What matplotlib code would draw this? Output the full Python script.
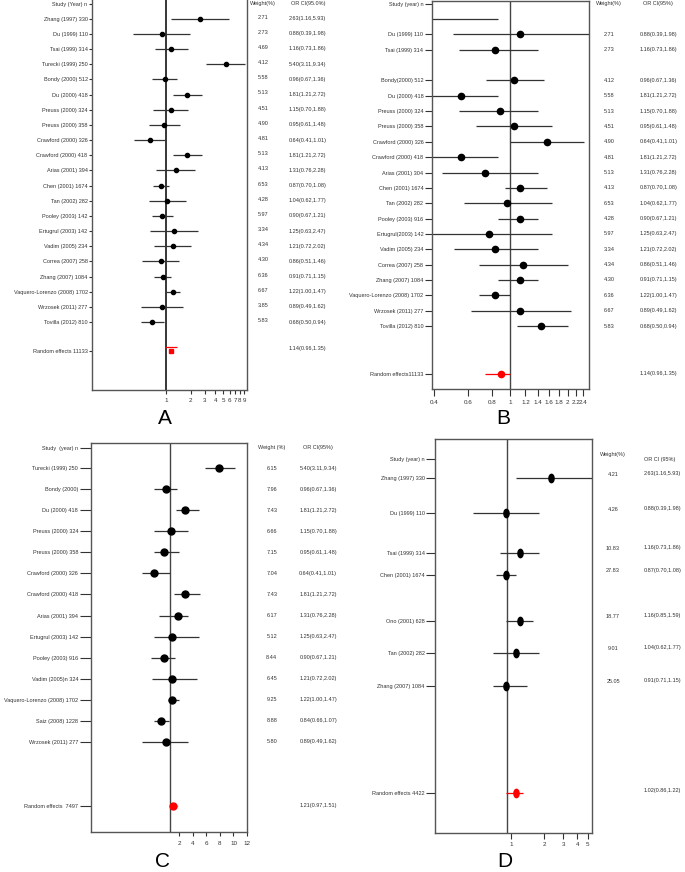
import numpy as np
import matplotlib
matplotlib.use('Agg')
import matplotlib.pyplot as plt
from matplotlib.ticker import NullLocator

plt.rcParams['font.family'] = ['Liberation Sans', 'DejaVu Sans']

# ---------------- panel A data
a_names = ['Zhang (1997) 330', 'Du (1999) 110', 'Tsai (1999) 314', 'Turecki (1999) 250',
           'Bondy (2000) 512', 'Du (2000) 418', 'Preuss (2000) 324', 'Preuss (2000) 358',
           'Crawford (2000) 326', 'Crawford (2000) 418', 'Arias (2001) 394', 'Chen (2001) 1674',
           'Tan (2002) 282', 'Pooley (2003) 142', 'Ertugrul (2003) 142', 'Vadim (2005) 234',
           'Correa (2007) 258', 'Zhang (2007) 1084', 'Vaquero-Lorenzo (2008) 1702',
           'Wrzosek (2011) 277', 'Tovilla (2012) 810']
a_weight = ['2.71', '2.73', '4.69', '4.12', '5.58', '5.13', '4.51', '4.90', '4.81', '5.13', '4.13',
            '6.53', '4.28', '5.97', '3.34', '4.34', '4.30', '6.36', '6.67', '3.85', '5.83']
a_or = [2.63, 0.88, 1.16, 5.40, 0.96, 1.81, 1.15, 0.95, 0.64, 1.81, 1.31, 0.87, 1.04, 0.90,
        1.25, 1.21, 0.86, 0.91, 1.22, 0.89, 0.68]
a_lo = [1.16, 0.39, 0.73, 3.11, 0.67, 1.21, 0.70, 0.61, 0.41, 1.21, 0.76, 0.70, 0.62, 0.67,
        0.63, 0.72, 0.51, 0.71, 1.00, 0.49, 0.50]
a_hi = [5.93, 1.98, 1.86, 9.34, 1.36, 2.72, 1.88, 1.48, 1.01, 2.72, 2.28, 1.08, 1.77, 1.21,
        2.47, 2.02, 1.46, 1.15, 1.47, 1.62, 0.94]
a_pooled = [1.14, 0.96, 1.35]

# ---------------- panel B data (as drawn)
b_names = ['', 'Du (1999) 110', 'Tsai (1999) 314', '', 'Bondy(2000) 512', 'Du (2000) 418',
           'Preuss (2000) 324', 'Preuss (2000) 358', 'Crawford (2000) 326', 'Crawford (2000) 418',
           'Arias (2001) 304', 'Chen (2001) 1674', 'Tan (2002) 282', 'Pooley (2003) 916',
           'Ertugrul(2003) 142', 'Vadim (2005) 234', 'Correa (2007) 258', 'Zhang (2007) 1084',
           'Vaquero-Lorenzo (2008) 1702', 'Wrzosek (2011) 277', 'Tovilla (2012) 810']
b_pt = [np.nan, 1.12, 0.83, np.nan, 1.04, 0.55, 0.88, 1.04, 1.56, 0.55, 0.74, 1.12, 0.96, 1.12,
        0.77, 0.83, 1.16, 1.12, 0.83, 1.12, 1.45]
b_lo = [0.30, 0.50, 0.54, np.nan, 0.75, 0.30, 0.54, 0.66, 1.00, 0.30, 0.44, 0.94, 0.57, 0.86,
        0.30, 0.51, 0.69, 0.86, 0.69, 0.62, 1.08]
b_hi = [0.86, 2.59, 1.40, np.nan, 1.50, 0.86, 1.40, 1.65, 2.44, 0.86, 1.40, 1.55, 1.65, 1.40,
        1.65, 1.40, 2.00, 1.40, 1.00, 2.09, 2.00]
b_weight = ['', '2.71', '2.73', '', '4.12', '5.58', '5.13', '4.51', '4.90', '4.81', '5.13', '4.13',
            '6.53', '4.28', '5.97', '3.34', '4.34', '4.30', '6.36', '6.67', '5.83']
b_ortext = ['', '0.88(0.39,1.98)', '1.16(0.73,1.86)', '', '0.96(0.67,1.36)', '1.81(1.21,2.72)',
            '1.15(0.70,1.88)', '0.95(0.61,1.48)', '0.64(0.41,1.01)', '1.81(1.21,2.72)',
            '1.31(0.76,2.28)', '0.87(0.70,1.08)', '1.04(0.62,1.77)', '0.90(0.67,1.21)',
            '1.25(0.63,2.47)', '1.21(0.72,2.02)', '0.86(0.51,1.46)', '0.91(0.71,1.15)',
            '1.22(1.00,1.47)', '0.89(0.49,1.62)', '0.68(0.50,0.94)']
b_pooled = [0.89, 0.74, 1.00]

# ---------------- panel C data (as drawn, linear axis)
c_names = ['Turecki (1999) 250', 'Bondy (2000)', 'Du (2000) 418', 'Preuss (2000) 324',
           'Preuss (2000) 358', 'Crawford (2000) 326', 'Crawford (2000) 418', 'Arias (2001) 394',
           'Ertugrul (2003) 142', 'Pooley (2003) 916', 'Vadim (2005)n 324',
           'Vaquero-Lorenzo (2008) 1702', 'Saiz (2008) 1228', 'Wrzosek (2011) 277']
c_pt = [7.9, 0.03, 2.84, 0.77, -0.22, -1.74, 2.84, 1.76, 0.96, -0.22, 0.96, 0.96, -0.76, -0.02]
c_lo = [5.75, -1.79, 1.46, -1.79, -1.79, -3.56, 1.21, -0.96, -1.79, -2.19, -2.04, 0.37, -1.79, -3.56]
c_hi = [10.2, 1.65, 4.9, 3.33, 2.0, 0.66, 5.0, 3.33, 4.9, 1.36, 4.56, 1.95, 0.52, 3.33]
c_weight = ['6.15', '7.96', '7.43', '6.66', '7.15', '7.04', '7.43', '6.17', '5.12', '8.44',
            '6.45', '9.25', '8.88', '5.80']
c_ortext = ['5.40(3.11,9.34)', '0.96(0.67,1.36)', '1.81(1.21,2.72)', '1.15(0.70,1.88)',
            '0.95(0.61,1.48)', '0.64(0.41,1.01)', '1.81(1.21,2.72)', '1.31(0.76,2.28)',
            '1.25(0.63,2.47)', '0.90(0.67,1.21)', '1.21(0.72,2.02)', '1.22(1.00,1.47)',
            '0.84(0.66,1.07)', '0.89(0.49,1.62)']
c_pooled = [1.11, 0.5, 1.8]

# ---------------- panel D data (as drawn)
d_names = ['Zhang (1997) 330', 'Du (1999) 110', 'Tsai (1999) 314', 'Chen (2001) 1674',
           'Ono (2001) 628', 'Tan (2002) 282', 'Zhang (2007) 1084']
d_pt = [2.30, 0.91, 1.21, 0.906, 1.21, 1.11, 0.906]
d_lo = [1.12, 0.45, 0.80, 0.73, 0.906, 0.68, 0.68]
d_hi = [6.0, 1.80, 1.80, 1.12, 1.58, 1.80, 1.40]
d_weight = ['4.21', '4.26', '10.83', '27.83', '18.77', '9.01', '25.05']
d_ortext = ['2.63(1.16,5.93)', '0.88(0.39,1.98)', '1.16(0.73,1.86)', '0.87(0.70,1.08)',
            '1.16(0.85,1.59)', '1.04(0.62,1.77)', '0.91(0.71,1.15)']
d_pooled = [1.11, 0.906, 1.30]

W, H = 685, 872
fig = plt.figure(figsize=(W / 100, H / 100), dpi=100)
TXT = '#333333'
LN = '#333333'


def box(l, t, r, b):
    return fig.add_axes([l / W, 1 - b / H, (r - l) / W, (b - t) / H])


def style(ax, ylen, xlen):
    for s in ax.spines.values():
        s.set_color('#555555')
        s.set_linewidth(1)
    ax.tick_params(axis='y', length=ylen, width=0.8, color=LN, labelsize=4, pad=1, labelcolor=TXT)
    ax.tick_params(axis='x', length=xlen, width=0.8, color=LN, labelsize=4.5, pad=3, labelcolor=TXT)
    ax.xaxis.set_minor_locator(NullLocator())
    ax.yaxis.set_minor_locator(NullLocator())


def right_text(ax, x, ys, texts, ha='center', dy=0.0):
    for y, s in zip(ys, texts):
        if s:
            ax.text(x, y + dy, s, transform=ax.get_yaxis_transform(), ha=ha, va='center',
                    fontsize=4, color=TXT, clip_on=False)


def yticks(ax, header, hy, names, rows, pname, py):
    keep = [(y, n) for y, n in zip(rows, names) if n]
    ax.set_yticks([hy] + [y for y, n in keep] + [py])
    ax.set_yticklabels([header] + [n for y, n in keep] + [pname])


# ================= A
ax = box(92, 0, 247, 390)
rows = np.arange(len(a_names))
py = 21.9
ax.axvline(1, color='black', lw=1.1, zorder=1)
ax.hlines(rows, a_lo, a_hi, color=LN, lw=0.9)
ax.plot(a_or, rows, 'o', color='black', ms=3)
ax.hlines(py - 0.25, a_pooled[1], a_pooled[2], color='red', lw=0.9)
ax.plot(a_pooled[0], py, 's', color='red', ms=2.8)
ax.set_xscale('log')
ax.set_xlim(0.124, 9.8)
ax.set_ylim(24.48, -1.23)
ax.set_xticks(range(1, 10))
ax.set_xticklabels([str(i) for i in range(1, 10)])
style(ax, 2.2, 3)
ax.spines['top'].set_visible(False)
yticks(ax, 'Study (Year) n', -0.97, a_names, rows, 'Random effects 11133', py)
right_text(ax, 1.103, [-0.97], ['Weight(%)'])
right_text(ax, 1.394, [-0.97], ['OR CI(95.0%)'])
right_text(ax, 1.103, rows, a_weight, dy=-0.1)
right_text(ax, 1.271, rows, ['%.2f(%.2f,%.2f)' % v for v in zip(a_or, a_lo, a_hi)], ha='left')
right_text(ax, 1.271, [py - 0.15], ['%.2f(%.2f,%.2f)' % tuple(a_pooled)], ha='left')

# ================= B
ax = box(431.7, 1, 589.3, 389)
rows = np.arange(len(b_names))
py = 23.1
ax.axvline(1, color='#444444', lw=1, zorder=1)
ax.hlines(rows, b_lo, b_hi, color=LN, lw=0.9)
ax.plot(b_pt, rows, 'o', color='black', ms=4.5)
ax.hlines(py, b_pooled[1], b_pooled[2], color='red', lw=0.9)
ax.plot(b_pooled[0], py, 'o', color='red', ms=4.5)
ax.set_xscale('log')
ax.set_xlim(0.388, 2.59)
ax.set_ylim(24.1, -1.17)
bt = [0.4, 0.6, 0.8, 1, 1.2, 1.4, 1.6, 1.8, 2, 2.2, 2.4]
ax.set_xticks(bt)
ax.set_xticklabels(['%g' % t for t in bt])
style(ax, 5, 5)
yticks(ax, 'Study (year) n', -0.98, b_names, rows, 'Random effects11133', py)
right_text(ax, 1.127, [-0.98], ['Weight(%)'])
right_text(ax, 1.436, [-0.98], ['OR CI(95%)'])
right_text(ax, 1.127, rows, b_weight)
right_text(ax, 1.322, rows, b_ortext, ha='left')
right_text(ax, 1.322, [py], ['1.14(0.96,1.35)'], ha='left')

# ================= C
ax = box(90.7, 443.3, 247.3, 832.3)
rows = np.arange(len(c_names))
py = 16.05
ax.axvline(0.58, color='#444444', lw=1, zorder=1)
ax.hlines(rows, c_lo, c_hi, color=LN, lw=0.9)
ax.plot(c_pt, rows, 'o', color='black', ms=5)
ax.hlines(py, c_pooled[1], c_pooled[2], color='#ffb0b0', lw=0.8)
ax.plot(c_pooled[0], py, 'o', color='red', ms=5)
ax.set_xlim(-11.1, 12.04)
ax.set_ylim(17.31, -1.19)
ax.set_xticks([2, 4, 6, 8, 10, 12])
style(ax, 8, 3)
yticks(ax, 'Study  (year) n', -0.97, c_names, rows, 'Random effects  7497', py)
right_text(ax, 1.156, [-0.97], ['Weight (%)'])
right_text(ax, 1.453, [-0.97], ['OR CI(95%)'])
right_text(ax, 1.156, rows, c_weight)
right_text(ax, 1.453, rows, c_ortext)
right_text(ax, 1.453, [py], ['1.21(0.97,1.51)'])

# ================= D
ax = box(435, 439, 591.7, 832.7)
d_rows = [0, 1.03, 2.19, 2.85, 4.18, 5.13, 6.1]
py = 9.24
t = np.linspace(0, 2 * np.pi, 40)
ell = np.column_stack([0.62 * np.cos(t), np.sin(t)])
ax.axvline(0.925, color='#444444', lw=1, zorder=1)
ax.hlines(d_rows, d_lo, d_hi, color=LN, lw=0.9)
ax.plot(d_pt, d_rows, linestyle='none', marker=ell, color='black', ms=6)
ax.hlines(py, d_pooled[1], d_pooled[2], color='red', lw=0.9)
ax.plot(d_pooled[0], py, linestyle='none', marker=ell, color='red', ms=6)
ax.set_xscale('log')
ax.set_xlim(0.204, 5.42)
ax.set_ylim(10.42, -1.16)
ax.set_xticks([1, 2, 3, 4, 5])
ax.set_xticklabels(['1', '2', '3', '4', '5'])
style(ax, 6.5, 4)
yticks(ax, 'Study (year) n', -0.57, d_names, d_rows, 'Random effects 4422', py)
right_text(ax, 1.136, [-0.7], ['Weight(%)'])
right_text(ax, 1.436, [-0.57], ['OR CI (95%)'])
right_text(ax, 1.136, d_rows, d_weight, dy=-0.13)
right_text(ax, 1.334, d_rows, d_ortext, ha='left', dy=-0.15)
right_text(ax, 1.334, [py - 0.07], ['1.02(0.86,1.22)'], ha='left')

# panel letters
for lab, x, y in [('A', 165, 419), ('B', 503, 419), ('C', 163, 861), ('D', 505, 861)]:
    fig.text(x / W, 1 - y / H, lab, ha='center', va='center', fontsize=15, color='black')

fig.savefig('out.png', dpi=100)
